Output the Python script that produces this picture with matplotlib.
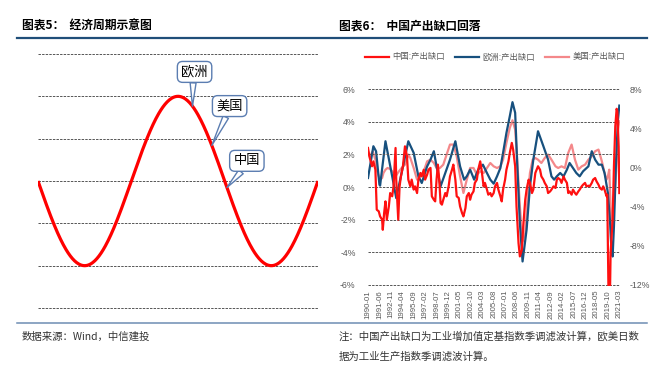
import matplotlib
matplotlib.use('Agg')
import numpy as np
import matplotlib.pyplot as plt
from matplotlib.lines import Line2D
from matplotlib.ticker import FuncFormatter

plt.rcParams['font.family'] = ['Noto Sans CJK SC', 'DejaVu Sans']

# ---- left: schematic cycle ----
cycle_labels = ['欧洲', '美国', '中国']
cycle_phase = [5.2, 5.85, 6.36]          # where each economy sits on the wave
cycle_amp = 2

# ---- right: output gap, month offset from 1990-01 ----
cn_month = [0, 2, 6, 8, 11, 13, 16, 18, 21, 22, 24, 26, 28, 31, 33, 36, 38, 41, 42, 45,
            47, 49, 52, 55, 58, 60, 63, 65, 68, 70, 73, 75, 78, 80, 83, 85, 88, 90, 93, 95,
            98, 100, 102, 104, 106, 108, 110, 112, 115, 117, 120, 122, 125, 127, 130, 132, 135, 137, 140, 142,
            145, 147, 150, 152, 154, 157, 159, 162, 164, 167, 169, 172, 174, 177, 179, 182, 184, 187, 189, 192,
            194, 197, 199, 201, 204, 206, 209, 211, 214, 216, 219, 221, 224, 226, 229, 231, 234, 236, 239, 241,
            244, 246, 249, 251, 253, 256, 258, 261, 263, 266, 268, 271, 273, 276, 279, 281, 283, 286, 288, 291,
            293, 296, 298, 300, 303, 305, 308, 310, 313, 315, 318, 320, 323, 325, 328, 330, 333, 335, 338, 340,
            343, 345, 348, 350, 352, 355, 356, 358, 360, 361, 364, 366, 368, 370, 371, 373, 374]
cn_gap = [2.39, 1.88, 1.27, 1.57, 1.06, -1.39, -1.49, -1.80, -2.00, -2.62, -1.60, -0.88, -2.00, -1.19, -0.37, -0.57, 0.04, 2.39, 0.45, -2.00,
          0.04, 0.65, 1.27, 2.49, 1.88, 0.45, 0.04, 0.45, -0.16, 0.04, -0.37, 0.45, 0.86, 0.65, 1.06, 0.45, 0.76, 1.06, 1.17, -0.57,
          -0.78, -0.88, 0.45, 1.37, 0.45, -0.98, -1.08, -0.78, -0.37, -0.57, 0.04, 0.65, 1.06, 1.37, 0.45, -0.57, -0.67, -1.19, -1.60, -1.80,
          -1.29, -0.57, -0.37, -0.78, -0.47, -0.27, 0.25, 0.45, 1.06, 1.57, 1.06, 0.04, 0.25, -0.16, -0.47, -0.37, -0.57, -0.37, 0.04, 0.25,
          -0.16, -0.57, -0.88, -0.16, 0.45, 1.06, 1.57, 2.09, 2.70, 2.29, 1.27, -1.19, -3.44, -4.25, -3.84, -2.41, -0.78, -0.16, 0.45, 0.25,
          -0.37, -0.16, 0.86, 1.06, 1.27, 1.06, 0.65, 0.45, 0.25, 0.04, -0.37, -0.27, -0.16, 0.04, -0.06, 0.45, 0.55, 0.45, 0.25, 0.65,
          0.45, 0.25, -0.37, -0.27, -0.47, -0.16, -0.37, -0.47, -0.27, -0.16, 0.04, 0.14, 0.25, 0.04, 0.08, 0.04, 0.25, 0.45, 0.55, 0.35,
          0.14, -0.06, -0.16, 0.04, -0.16, -0.57, -0.47, -6.8, -6.8, -4.05, -2.00, 1.27, 3.72, 4.79, 4.64, 2.49, -0.37]

eu_month = [0, 8, 12, 17, 18, 26, 36, 42, 50, 60, 68, 75, 80, 88, 93, 98, 102, 108, 115, 122,
            130, 137, 143, 147, 152, 158, 164, 171, 177, 182, 187, 192, 197, 201, 206, 211, 215, 219, 222, 226,
            230, 236, 241, 246, 251, 253, 261, 268, 273, 277, 281, 286, 291, 296, 300, 305, 310, 315, 320, 328,
            333, 338, 343, 348, 352, 357, 360, 362, 364, 366, 369, 372, 374]
eu_gap = [-1.08, 2.16, 1.65, -1.76, -1.86, 2.67, -0.91, -3.13, -0.57, 2.67, 1.48, -0.91, -1.59, 0.11, 0.79, 1.65, 0.11, -1.93, -0.57, 0.79,
          2.67, 0.11, -1.25, -0.91, -0.23, -1.25, -0.23, 0.28, -0.57, -1.25, -1.66, -0.91, -0.06, 1.48, 3.52, 5.22, 6.66, 5.57, 0.45, -5.68,
          -9.60, -6.36, -1.93, 0.79, 2.84, 3.69, 2.16, 0.79, -0.91, -1.25, -0.91, -0.57, -0.91, -0.23, 0.45, -0.06, -0.57, -0.91, -0.40, 0.11,
          1.65, 0.79, 0.28, 0.28, -0.57, -2.61, -5.34, -8.06, -9.09, -6.02, 0.45, 4.88, 6.31]

us_month = [0, 3, 7, 11, 13, 16, 18, 21, 23, 26, 29, 33, 38, 41, 46, 50, 55, 60, 63, 68,
            73, 78, 83, 88, 93, 98, 102, 107, 112, 117, 122, 127, 132, 137, 142, 147, 152, 157, 162, 167,
            172, 177, 182, 187, 192, 197, 201, 206, 211, 215, 219, 222, 226, 230, 234, 237, 241, 245, 249, 253,
            258, 263, 268, 273, 279, 283, 288, 293, 298, 303, 308, 313, 318, 323, 328, 333, 338, 343, 348, 352,
            355, 357, 359, 361, 363, 365, 367, 370, 372, 374]
us_gap = [1.65, 1.13, 1.65, 0.79, -0.23, -0.91, -1.25, -1.08, -0.57, -0.23, -0.06, -0.16, -0.57, -0.91, -0.40, -0.06, 0.28, 1.31, 0.96, -0.06,
          -1.25, -0.91, -0.40, 0.62, 0.79, 0.45, -0.06, -0.06, 0.28, 1.31, 2.33, 2.33, 1.13, -0.91, -2.61, -1.25, -0.06, -0.06, -0.74, -0.40,
          -0.57, -0.06, 0.45, 0.11, -0.06, 0.11, 0.79, 2.50, 4.03, 4.81, 3.86, 0.79, -3.98, -7.56, -6.71, -3.64, -0.57, 0.79, 0.96, 0.79,
          0.45, 0.96, 1.31, 0.79, 0.11, -0.06, 0.11, -0.06, 1.48, 2.33, 0.79, -0.23, 0.11, 0.28, 0.79, 1.13, 1.65, 1.82, 0.62, -0.57,
          -1.25, -0.91, -0.23, -3.98, -6.02, -4.66, -2.95, 0.45, 3.86, 4.71]

x_labels = ['1990-01', '1991-06', '1992-11', '1994-04', '1995-09', '1997-02', '1998-07', '1999-12',
            '2001-05', '2002-10', '2004-03', '2005-08', '2007-01', '2008-06', '2009-11', '2011-04',
            '2012-09', '2014-02', '2015-07', '2016-12', '2018-05', '2019-10', '2021-03']
left_ticks = [-6, -4, -2, 0, 2, 4, 6]
right_ticks = [-12, -8, -4, 0, 4, 8]

W, H = 672, 377
fig = plt.figure(figsize=(W / 100, H / 100), dpi=100)

# header / footer rules and texts
fig.add_artist(Line2D([17 / W, 647 / W], [1 - 38 / H] * 2, color='#1f4e79', lw=1.6))
fig.add_artist(Line2D([17 / W, 647 / W], [1 - 323 / H] * 2, color='#6d8db3', lw=1.1))
fig.text(22 / W, 1 - 26 / H, '图表5：  经济周期示意图', fontsize=8.5, fontweight='bold', va='center')
fig.text(339 / W, 1 - 26 / H, '图表6：  中国产出缺口回落', fontsize=8.5, fontweight='bold', va='center')
fig.text(22 / W, 1 - 337 / H, '数据来源：Wind，中信建投', fontsize=7.5, color='#333333', va='center',
         style='italic')
fig.text(339 / W, 1 - 337 / H, '注：中国产出缺口为工业增加值定基指数季调滤波计算，欧美日数',
         fontsize=7.5, color='#333333', va='center', style='italic')
fig.text(339 / W, 1 - 357 / H, '据为工业生产指数季调滤波计算。',
         fontsize=7.5, color='#333333', va='center', style='italic')

# ---- left panel ----
ax0 = fig.add_axes([38 / W, 1 - 308.85 / H, 280 / W, 255.7 / H])
t = np.linspace(0, 3 * np.pi, 400)
ax0.plot(t, -cycle_amp * np.sin(t), color='#ff0000', lw=2.3, solid_capstyle='butt')
ax0.set_xlim(0, 3 * np.pi)
ax0.set_ylim(-3.02, 3.02)
ax0.set_yticks(range(-3, 4))
ax0.yaxis.grid(True, ls=(0, (2.5, 1.2)), color='#555555', lw=0.7)
ax0.tick_params(left=False, bottom=False, labelleft=False, labelbottom=False)
for s in ax0.spines.values():
    s.set_visible(False)

box_off = [(0.07, 0.81), (0.6, 0.93), (0.67, 0.63)]
for lab, ph, (dx, dy) in zip(cycle_labels, cycle_phase, box_off):
    yv = -cycle_amp * np.sin(ph)
    ax0.annotate(lab, xy=(ph, yv), xytext=(ph + dx, yv + dy), fontsize=9.5,
                 ha='center', va='center',
                 bbox=dict(boxstyle='round,pad=0.3,rounding_size=0.4', fc='white', ec='#5b7db1', lw=1),
                 arrowprops=dict(arrowstyle='wedge,tail_width=0.45', fc='white', ec='#5b7db1', lw=1,
                                 shrinkA=0, shrinkB=0, relpos=(0.45, 0.05)))

# ---- right panel ----
ax1 = fig.add_axes([368 / W, 1 - 285.8 / H, 252 / W, 197.6 / H])
ax2 = ax1.twinx()
ax1.set_zorder(ax2.get_zorder() + 1)
ax1.patch.set_visible(False)

l_us, = ax2.plot(us_month, us_gap, color='#f4888a', lw=1.6, label='美国:产出缺口')
l_eu, = ax2.plot(eu_month, eu_gap, color='#17507e', lw=1.6, label='欧洲:产出缺口')
l_cn, = ax1.plot(cn_month, cn_gap, color='#ff1010', lw=1.6, label='中国:产出缺口')

ax1.set_ylim(-6.05, 6.05)
ax2.set_ylim(-12.083, 8.083)
ax1.set_yticks(left_ticks)
ax2.set_yticks(right_ticks)
pct = FuncFormatter(lambda v, p: f'{v:.0f}%')
ax1.yaxis.set_major_formatter(pct)
ax2.yaxis.set_major_formatter(pct)
ax1.set_xlim(0, 375)
ax1.set_xticks(range(0, 17 * len(x_labels), 17))
ax1.set_xticklabels(x_labels, rotation=90)
ax1.yaxis.grid(True, ls=(0, (2.5, 1.2)), color='#555555', lw=0.7)
for a in (ax1, ax2):
    for s in a.spines.values():
        s.set_visible(False)
    a.tick_params(length=0, colors='#595959', labelsize=6.3, labelfontfamily='Liberation Sans')
ax1.tick_params(axis='x', labelsize=5.6, pad=3)
ax1.tick_params(axis='y', pad=9)
ax2.tick_params(axis='y', pad=7)

fig.legend([l_cn, l_eu, l_us], [l_cn.get_label(), l_eu.get_label(), l_us.get_label()],
           loc='center', bbox_to_anchor=(495 / W, 1 - 57 / H), ncol=3, frameon=False,
           fontsize=6, handlelength=2.9, handletextpad=0.4, columnspacing=1.2,
           labelcolor='#595959')

fig.savefig('out.png', dpi=100)
